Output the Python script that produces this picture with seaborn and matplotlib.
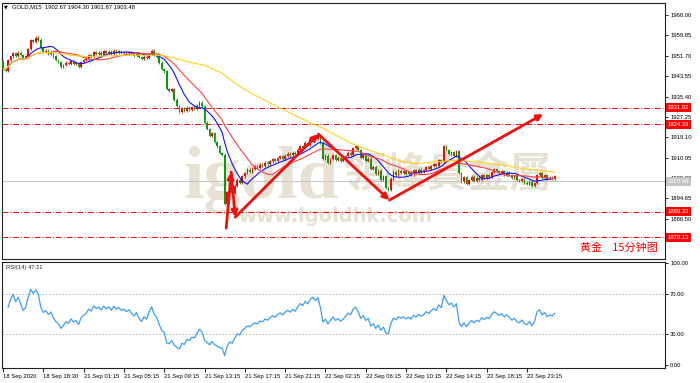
import numpy as np
import pandas as pd
import matplotlib
matplotlib.use("Agg")
import matplotlib.pyplot as plt
import matplotlib.transforms as mtransforms
import seaborn as sns

# ---------------- data ----------------
first_open = 1949.5
closes = [
    1946.5, 1945.8, 1950.0, 1951.5, 1952.8, 1951.8, 1953.0, 1952.0, 1950.8, 1951.5,
    1954.5, 1958.0, 1957.2, 1959.0, 1958.2, 1954.8, 1953.2, 1953.8, 1952.6, 1953.4,
    1951.5, 1950.0, 1949.2, 1947.2, 1948.0, 1949.0, 1948.4, 1949.6, 1948.5, 1948.9,
    1947.4, 1949.3, 1950.1, 1950.6, 1952.0, 1951.4, 1953.2, 1952.5, 1953.0, 1952.2,
    1953.5, 1952.8, 1953.4, 1952.6, 1953.8, 1953.1, 1953.6, 1952.9, 1953.3, 1952.7,
    1953.2, 1952.4, 1951.8, 1952.6, 1951.2, 1950.4, 1951.4, 1950.8, 1952.4, 1953.8,
    1952.0, 1951.2, 1949.0, 1946.5, 1945.5, 1938.5, 1937.6, 1938.4, 1934.2, 1931.5,
    1929.2, 1930.8, 1929.6, 1931.0, 1930.2, 1931.2, 1930.5, 1931.8, 1933.0, 1931.5,
    1925.0, 1922.5, 1919.8, 1920.8, 1917.2, 1915.5, 1912.8, 1912.2, 1892.5, 1897.2,
    1899.5, 1897.0, 1899.8, 1902.2, 1901.0, 1903.5, 1904.8, 1906.2, 1905.4, 1906.6,
    1907.5, 1906.8, 1908.2, 1907.6, 1909.0, 1908.3, 1909.5, 1910.4, 1909.6, 1910.8,
    1911.5, 1910.6, 1911.8, 1912.6, 1911.9, 1913.0, 1912.4, 1914.2, 1915.6, 1915.0,
    1917.0, 1916.2, 1918.4, 1919.5, 1918.6, 1920.0, 1917.0, 1910.5, 1911.8, 1909.0,
    1910.5, 1912.0, 1910.2, 1911.0, 1909.6, 1910.4, 1911.6, 1913.0, 1912.2, 1914.8,
    1915.6, 1914.0, 1911.0, 1912.2, 1909.8, 1910.6, 1906.5, 1907.4, 1904.5, 1905.8,
    1902.2, 1903.5, 1899.0, 1898.2, 1902.6, 1905.4, 1904.2, 1905.8, 1904.9, 1905.6,
    1904.5, 1905.2, 1904.3, 1905.9, 1905.0, 1906.2, 1905.4, 1906.0, 1907.2, 1906.5,
    1907.6, 1908.4, 1907.8, 1910.0, 1909.2, 1915.6, 1914.0, 1912.4, 1913.2, 1911.8,
    1913.5, 1904.8, 1901.5, 1903.2, 1900.4, 1902.0, 1903.4, 1901.8, 1903.0, 1902.2,
    1904.1, 1903.0, 1904.0, 1903.3, 1905.2, 1906.4, 1905.6, 1904.8, 1905.5, 1904.2,
    1905.0, 1904.0, 1902.8, 1903.5, 1902.0, 1901.6, 1902.4, 1901.0, 1900.6, 1901.4,
    1899.8, 1900.9, 1904.0, 1904.8, 1903.0, 1903.9, 1902.4, 1903.0, 1902.67, 1903.48,
]
time_labels = ["18 Sep 2020", "18 Sep 18:30", "21 Sep 01:15", "21 Sep 05:15",
               "21 Sep 09:15", "21 Sep 13:15", "21 Sep 17:15", "21 Sep 21:15",
               "22 Sep 02:15", "22 Sep 06:15", "22 Sep 10:15", "22 Sep 14:15",
               "22 Sep 18:15", "22 Sep 23:15"]
price_ticks = [1968.00, 1959.85, 1951.70, 1943.55, 1935.40, 1927.25, 1919.10,
               1910.95, 1902.80, 1894.65, 1886.50, 1878.35]
rsi_ticks = [100, 70, 30, 0]
rsi_levels = [70, 30]
level_lines = [1931.02, 1924.33, 1889.33, 1879.13]
bid_price = 1903.48
header_text = "GOLD,M15  1902.67 1904.30 1901.87 1903.48"
rsi_text = "RSI(14) 47.11"
ma_periods = [10, 20, 78]
ma_colors = ["#1010ff", "#ff4040", "#ffd21a"]
arrow_bars = [88.6, 90.6, 92.2, 125.2, 153.4, 214.5]
arrow_prices = [1882.8, 1905.2, 1887.2, 1920.4, 1894.0, 1928.4]

UP, DOWN = "#ff0000", "#0a9a0a"
SMALL = dict(fontsize=4.2, family="Liberation Sans")

# ---------------- figure ----------------
sns.set_theme(style="white")
plt.rcParams["font.family"] = ["Liberation Sans", "DejaVu Sans", "Noto Sans CJK SC"]
W, H = 700, 383
fig = plt.figure(figsize=(W / 100, H / 100), dpi=100)
fig.patch.set_facecolor("white")

def ax_rect(x0, y0, x1, y1):
    return [x0 / W, 1 - y1 / H, (x1 - x0) / W, (y1 - y0) / H]

ax = fig.add_axes(ax_rect(2, 3, 665, 258.5))
axr = fig.add_axes(ax_rect(2, 261.5, 665, 368), sharex=ax)

n = len(closes)
idx = np.arange(n)
cl = np.array(closes)
op = np.array([first_open] + closes[:-1])
up = cl >= op
lo = np.minimum(op, cl)
hi = np.maximum(op, cl)
cols = np.where(up, UP, DOWN)
wick = 0.5

df = pd.DataFrame({"bar": idx, "close": cl})
for p in ma_periods:
    df[f"ma{p}"] = df["close"].rolling(p, min_periods=1).mean()

delta = np.diff(np.r_[first_open, cl])
gain = pd.Series(np.clip(delta, 0, None))
loss = pd.Series(np.clip(-delta, 0, None))
ag = gain.ewm(alpha=1 / 14, adjust=True, min_periods=3).mean()
al = loss.ewm(alpha=1 / 14, adjust=True, min_periods=3).mean()
df["rsi"] = 100 - 100 / (1 + ag / al)

# watermark (pixel -> axes fraction)
def fx(px):
    return (px - 2) / 663.0
def fy(py):
    return (258.5 - py) / 255.5
wm = "#e8e1d3"
ax.text(fx(183), fy(198), "igold", transform=ax.transAxes, fontsize=53,
        family="Liberation Serif", weight="bold", color=wm, va="baseline",
        ha="left", zorder=0)
ax.text(fx(343), fy(175), "領峰貴金屬", transform=ax.transAxes, fontsize=30,
        family="Noto Sans CJK TC", weight="bold", color=wm, va="center",
        ha="left", zorder=0)
ax.text(fx(238), fy(217), "www.igoldhk.com", transform=ax.transAxes,
        fontsize=14, family="DejaVu Sans", weight="bold", color=wm,
        va="center", ha="left", zorder=0)

# level lines
for lv in level_lines:
    ax.axhline(lv, color="#ff0000", lw=0.7, ls=(0, (6, 2, 1, 2)), zorder=1)
ax.axhline(bid_price - 1.9, color="#c8c8c8", lw=0.8, zorder=1)

# candles
ax.vlines(idx, lo - wick, hi + wick, colors=cols, lw=0.6, zorder=3)
ax.bar(idx, np.maximum(hi - lo, 0.15), bottom=lo, width=0.66, color=cols,
       linewidth=0, zorder=3)

# moving averages
for p, c in zip(ma_periods, ma_colors):
    sns.lineplot(data=df, x="bar", y=f"ma{p}", color=c, lw=0.8, ax=ax,
                 zorder=4, legend=False)

# red arrows
for i in range(len(arrow_bars) - 1):
    ax.annotate("", xy=(arrow_bars[i + 1], arrow_prices[i + 1]),
                xytext=(arrow_bars[i], arrow_prices[i]),
                arrowprops=dict(arrowstyle="-|>", color="#f01010", lw=2.0,
                                mutation_scale=9, shrinkA=0, shrinkB=0),
                zorder=6)

ax.set_xlim(-0.4, 262.8)
ax.set_ylim(1870.65, 1972.8)
ax.set_yticks(price_ticks)
ax.set_yticklabels([f"{t:.2f}" for t in price_ticks])
ax.yaxis.tick_right()
ax.tick_params(axis="y", right=True, length=2.5, width=0.6, labelsize=4.2,
               pad=1.2, colors="black")
ax.tick_params(axis="x", bottom=False, labelbottom=False)
ax.set_xlabel("")
ax.set_ylabel("")

# axis labels (boxes)
tr = mtransforms.blended_transform_factory(ax.transAxes, ax.transData)
for lv in level_lines:
    ax.text(1.004, lv, f"{lv:.2f}", transform=tr, color="white",
            va="center", ha="left", clip_on=False, zorder=10, **SMALL,
            bbox=dict(boxstyle="square,pad=0.35", fc="#ff0000", ec="none"))
ax.text(1.004, bid_price - 1.9, f"{bid_price:.2f}", transform=tr,
        color="white", va="center", ha="left", clip_on=False, zorder=10,
        **SMALL, bbox=dict(boxstyle="square,pad=0.35", fc="#c4c4c4", ec="none"))

ax.text(fx(580), fy(248), "黄金    15分钟图", transform=ax.transAxes,
        fontsize=8, color="#ff0000", family=["Noto Sans CJK SC"], va="center",
        ha="left", zorder=7)

fig.text(4 / W, 1 - 7 / H, "▼", fontsize=3.6, family="DejaVu Sans",
         color="black", va="center", ha="left")
fig.text(12 / W, 1 - 7 / H, header_text, color="black", va="center",
         ha="left", **SMALL)

# RSI panel
for lv in rsi_levels:
    axr.axhline(lv, color="#b0b0b0", lw=0.6, ls=(0, (2, 2)))
sns.lineplot(data=df, x="bar", y="rsi", color="#3d9df5", lw=0.9, ax=axr,
             legend=False)
axr.set_ylim(-2.9, 101.4)
axr.set_yticks(rsi_ticks)
axr.set_yticklabels([f"{t:.2f}" for t in rsi_ticks])
axr.yaxis.tick_right()
axr.tick_params(axis="y", right=True, length=2.5, width=0.6, labelsize=4.2,
                pad=1.2, colors="black")
xt = [16 * k for k in range(len(time_labels))]
axr.set_xticks(xt)
axr.set_xticklabels(time_labels)
for lab in axr.get_xticklabels():
    lab.set_horizontalalignment("left")
axr.tick_params(axis="x", bottom=True, length=3, width=0.6, labelsize=4.2,
                pad=1.5, colors="black")
axr.set_xlabel("")
axr.set_ylabel("")
axr.text(4 / 663, 1 - 6 / 106.5, rsi_text, transform=axr.transAxes,
         va="center", ha="left", **SMALL)

for a in (ax, axr):
    a.set_facecolor("white")
    for s in a.spines.values():
        s.set_visible(True)
        s.set_color("#202020")
        s.set_linewidth(0.8)

fig.savefig("out.png", dpi=100, facecolor="white")
